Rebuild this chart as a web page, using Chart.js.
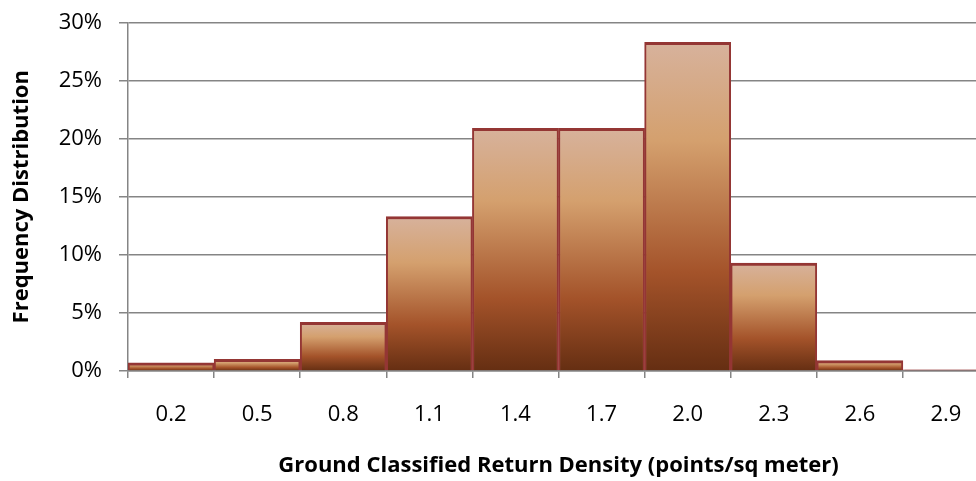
<!DOCTYPE html>
<html>
<head>
<meta charset="utf-8">
<script src="https://cdn.jsdelivr.net/npm/chart.js@4/dist/chart.umd.min.js"></script>
<style>
  html, body { margin: 0; padding: 0; background: #fff; overflow: hidden; }
  #wrap { width: 1000px; height: 481px; }
</style>
</head>
<body>
<div id="wrap"><canvas id="histChart"></canvas></div>
<script>
// Data (percent of returns per density bin)
const binLabels = ['0.2', '0.5', '0.8', '1.1', '1.4', '1.7', '2.0', '2.3', '2.6', '2.9'];
const binShares = [0.7, 1.0, 4.2, 13.3, 20.9, 20.9, 28.3, 9.3, 0.9, 0.1];
const yTicks = [0, 5, 10, 15, 20, 25, 30];

const FONT = "'Open Sans', 'DejaVu Sans', sans-serif";
const GRID = '#858585';

// per-bar vertical gradient, like the Excel preset fill
function barFill(ctx) {
  const chart = ctx.chart;
  const y = chart.scales.y;
  if (!chart.chartArea || !y || ctx.raw == null) return '#c07a48';
  const top = y.getPixelForValue(ctx.raw);
  const bottom = y.getPixelForValue(0);
  if (bottom - top < 2) return '#943634';
  const g = chart.ctx.createLinearGradient(0, top, 0, bottom);
  g.addColorStop(0, '#d7b29c');
  g.addColorStop(0.3, '#d4a06e');
  g.addColorStop(0.7, '#a4532a');
  g.addColorStop(1, '#652e12');
  return g;
}

new Chart(document.getElementById('histChart'), {
  type: 'bar',
  data: {
    labels: binLabels,
    datasets: [{
      data: binShares,
      backgroundColor: barFill,
      borderColor: '#943634',
      borderWidth: { top: 3, left: 2, right: 2, bottom: 0 },
      categoryPercentage: 1,
      barPercentage: 1
    }]
  },
  options: {
    responsive: true,
    maintainAspectRatio: false,
    animation: false,
    layout: { padding: { top: 22.5, right: 11, left: 0, bottom: 0 } },
    plugins: { legend: { display: false }, tooltip: { enabled: false } },
    scales: {
      x: {
        afterFit: axis => { axis.height = 110; },
        grid: { drawOnChartArea: false, color: GRID, lineWidth: 1.5, tickLength: 7 },
        border: { color: GRID, width: 1.5 },
        ticks: { color: '#000', font: { family: FONT, size: 22 }, padding: 24 },
        title: {
          display: true,
          text: 'Ground Classified Return Density (points/sq meter)',
          color: '#000',
          font: { family: FONT, size: 22, weight: 'bold' },
          padding: { top: 10, bottom: 2 }
        }
      },
      y: {
        min: 0,
        max: 30,
        afterBuildTicks: axis => { axis.ticks = yTicks.map(v => ({ value: v })); },
        afterFit: axis => {
          axis.width = 128;
          axis.paddingTop = 0;
          axis.paddingBottom = 0;
        },
        grid: { color: GRID, lineWidth: 1.5, tickLength: 9 },
        border: { color: GRID, width: 1.5 },
        ticks: { color: '#000', font: { family: FONT, size: 22 }, padding: 17, callback: v => v + '%' },
        title: {
          display: true,
          text: 'Frequency Distribution',
          color: '#000',
          font: { family: FONT, size: 22, weight: 'bold' },
          padding: { top: 9, bottom: 4 }
        }
      }
    }
  }
});
</script>
</body>
</html>
